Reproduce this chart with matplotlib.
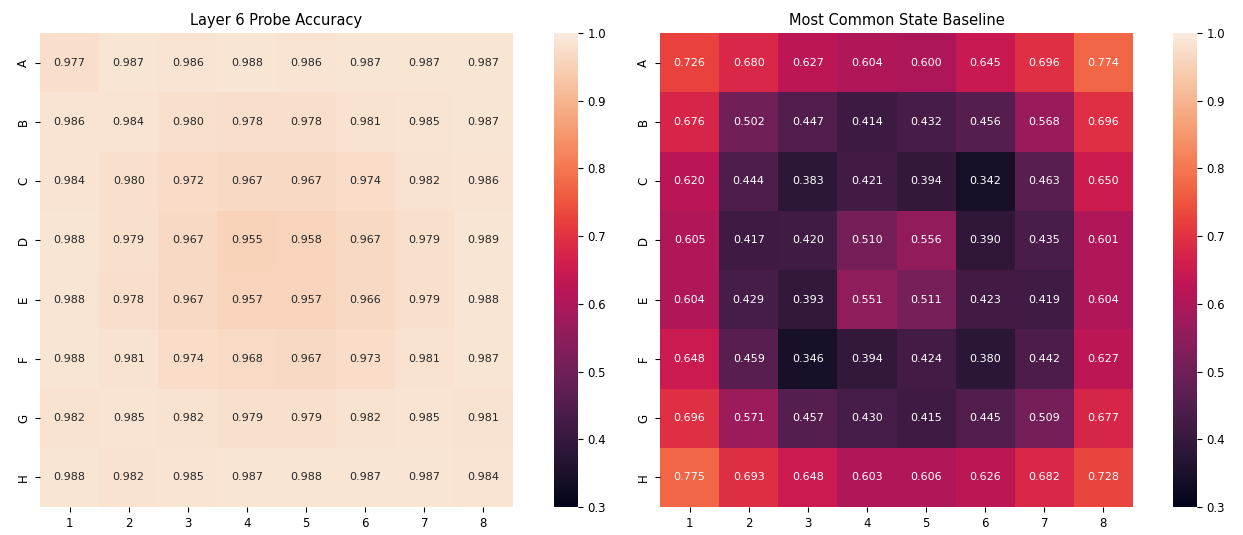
import matplotlib
matplotlib.use("Agg")
import matplotlib.pyplot as plt
import numpy as np
import seaborn as sns

rows = ["A", "B", "C", "D", "E", "F", "G", "H"]
cols = ["1", "2", "3", "4", "5", "6", "7", "8"]

# layer 6 probe accuracy per board square
probe_acc = [
    [0.977, 0.987, 0.986, 0.988, 0.986, 0.987, 0.987, 0.987],
    [0.986, 0.984, 0.980, 0.978, 0.978, 0.981, 0.985, 0.987],
    [0.984, 0.980, 0.972, 0.967, 0.967, 0.974, 0.982, 0.986],
    [0.988, 0.979, 0.967, 0.955, 0.958, 0.967, 0.979, 0.989],
    [0.988, 0.978, 0.967, 0.957, 0.957, 0.966, 0.979, 0.988],
    [0.988, 0.981, 0.974, 0.968, 0.967, 0.973, 0.981, 0.987],
    [0.982, 0.985, 0.982, 0.979, 0.979, 0.982, 0.985, 0.981],
    [0.988, 0.982, 0.985, 0.987, 0.988, 0.987, 0.987, 0.984],
]

# most common state baseline
baseline = [
    [0.726, 0.680, 0.627, 0.604, 0.600, 0.645, 0.696, 0.774],
    [0.676, 0.502, 0.447, 0.414, 0.432, 0.456, 0.568, 0.696],
    [0.620, 0.444, 0.383, 0.421, 0.394, 0.342, 0.463, 0.650],
    [0.605, 0.417, 0.420, 0.510, 0.556, 0.390, 0.435, 0.601],
    [0.604, 0.429, 0.393, 0.551, 0.511, 0.423, 0.419, 0.604],
    [0.648, 0.459, 0.346, 0.394, 0.424, 0.380, 0.442, 0.627],
    [0.696, 0.571, 0.457, 0.430, 0.415, 0.445, 0.509, 0.677],
    [0.775, 0.693, 0.648, 0.603, 0.606, 0.626, 0.682, 0.728],
]

titles = ["Layer 6 Probe Accuracy", "Most Common State Baseline"]

W, H = 1243, 535
fig = plt.figure(figsize=(W / 100, H / 100), dpi=100)

panels = [(40, 554), (660, 1173)]
for (x0, cx0), data, title in zip(panels, [probe_acc, baseline], titles):
    ax = fig.add_axes([x0 / W, 28 / H, 473 / W, 474 / H])
    cax = fig.add_axes([cx0 / W, 28 / H, 24 / W, 474 / H])
    sns.heatmap(np.array(data), ax=ax, cbar_ax=cax, cmap="rocket",
                vmin=0.3, vmax=1.0, annot=True, fmt=".3f",
                annot_kws={"fontsize": 8},
                xticklabels=cols, yticklabels=rows)
    ax.set_title(title, fontsize=10.5)
    ax.tick_params(labelsize=8.5)
    plt.setp(ax.get_yticklabels(), rotation=90, va="center")
    cax.tick_params(labelsize=8.5)

fig.savefig("out.png", dpi=100)
